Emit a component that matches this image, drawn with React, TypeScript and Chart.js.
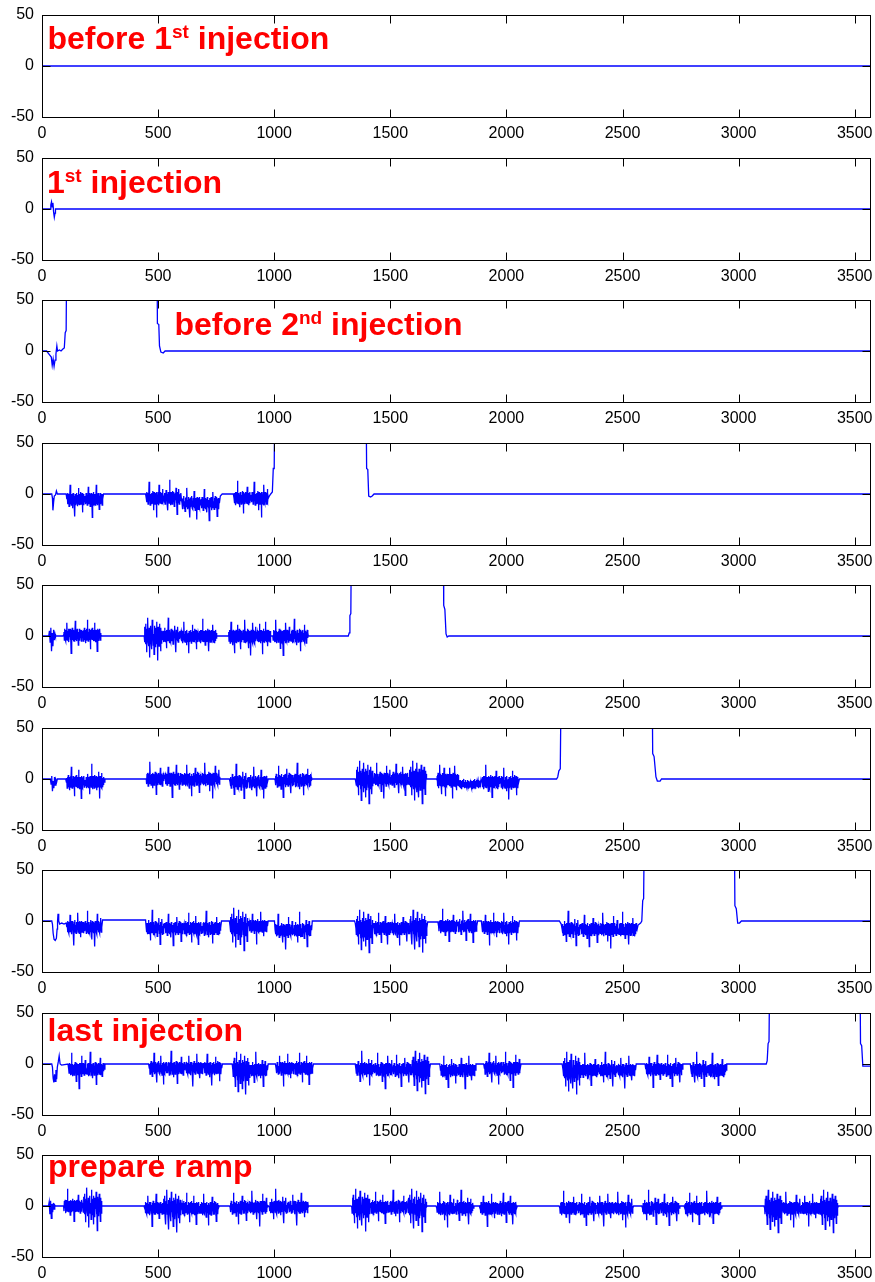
import React, { useEffect, useRef } from 'react';
import { Chart, registerables } from 'chart.js';
Chart.register(...registerables);

// ---------- axes ----------
const X_TICKS = [0, 500, 1000, 1500, 2000, 2500, 3000, 3500];
const Y_TICKS = [-50, 0, 50];
const X_MAX = 3568;

// ---------- hand-read noise shapes (data units, relative to burst mean) ----------
const NOISE_A = [0,4,-5,6,-3,5,-7,3,-4,14,-5,2,-6,5,-3,4,-9,6,-4,2,-5,3,-17,5,-6,3,-4,6,-2,-7,4,-5,11,-3,2,-6,5,-4,7,-5,3,-4,6,-13,4,-2,5,-6,3,0];
const NOISE_B = [0,-4,6,-3,5,-6,4,-5,16,-2,5,-7,4,-4,2,-6,5,-5,7,-3,4,-12,6,-5,3,-6,5,-2,4,-19,6,-4,2,-5,6,-7,13,-3,4,-5,6,-4,3,-6,5,-4,9,-5,2,0];
const NOISE_C = [0,4,-6,5,-3,7,-5,2,-8,5,-5,6,-4,15,-2,-6,3,-5,6,-5,4,-14,5,-4,6,-3,7,-5,2,-6,5,-4,12,-5,3,-7,5,-2,5,-16,6,-5,4,-6,5,-3,6,-5,2,0];
const NOISE_D = [0,-5,5,-2,6,-7,5,-4,6,-5,17,-3,4,-6,5,-4,2,-9,6,-4,5,-6,3,-5,7,-2,5,-15,6,-3,4,-6,5,-4,6,-5,3,-4,11,-6,5,-3,5,-7,4,-5,6,-2,3,0];
const NOISE_E = [0,3,-5,6,-4,5,-6,2,-5,12,-5,4,-3,6,-7,5,-2,6,-5,3,-18,5,-4,7,-5,2,-6,5,-6,4,-3,14,-5,5,-2,-6,6,-4,5,-10,3,-5,6,-5,5,-3,4,-6,5,0];
const NOISE_F = [0,-4,5,-6,3,-5,8,-3,5,-6,4,-12,6,-2,5,-5,18,-5,3,-7,6,-4,2,-6,7,-5,5,-3,6,-8,4,-5,5,-2,10,-5,3,-16,6,-4,5,-5,9,-6,2,-5,4,-3,5,0];
const NOISE_G = [0,2,-3,4,-2,1,-4,3,-1,2,-5,3,-2,4,-3,1,-2,5,-3,2,-4,1,-3,3,-2,4,-1,2,-3,1,0,3,-2,4,-4,2,-1,3,-3,1,0];
const NOISE_H = [0,-6,9,-4,12,-8,5,-16,7,-3,18,-6,4,-10,8,-21,6,-5,10,-7,3,-13,16,-4,7,-9,2,-18,10,-6,8,-11,5,-3,14,-8,4,-24,9,-5,7,-10,12,-4,3,-15,8,-7,5,0];
const NOISE: Record<string, number[]> = { A: NOISE_A, B: NOISE_B, C: NOISE_C, D: NOISE_D, E: NOISE_E, F: NOISE_F, G: NOISE_G, H: NOISE_H };

// ---------- panel key points [time, value] ----------
const P1_SHAPE = [[0,0],[3568,0]];
const P2_SHAPE = [[0,0],[35,0],[38,4],[41,7],[44,2],[47,6],[50,-3],[53,-8],[56,-4],[58,0],[3568,0]];
const P3_SHAPE = [[0,0],[20,0],[30,-3],[40,-6],[44,-14],[48,-8],[52,-15],[56,-9],[60,-3],[64,5],[67,0],[75,1],[82,0],[90,2],[96,3],[100,18],[104,20],[108,150],[494,150],[497,27],[503,26],[506,5],[512,-1],[522,-2],[530,0],[3568,0]];
const P4_SHAPE = [[0,0],[42,0],[45,-4],[47,-16],[50,-8],[53,-2],[58,-1],[62,3],[66,0],[104,0],[265,0],[446,0],[768,-2],[776,0],[824,0],[979,-2],[985,0],[992,2],[996,25],[1000,25],[1004,150],[1394,150],[1398,25],[1403,24],[1407,-2],[1415,-3],[1422,-2],[1430,0],[3568,0]];
const P5_SHAPE = [[0,0],[29,0],[32,5],[35,-6],[38,8],[41,-15],[44,3],[47,-10],[50,6],[53,-4],[56,2],[58,0],[90,0],[257,0],[437,0],[756,0],[800,0],[989,0],[1150,0],[1319,0],[1323,3],[1326,20],[1330,22],[1334,150],[1727,150],[1730,30],[1735,26],[1740,2],[1745,-1],[1752,0],[3568,0]];
const P6_SHAPE = [[0,0],[36,0],[39,-5],[42,3],[45,-12],[48,-2],[51,-9],[54,2],[57,-6],[60,-1],[63,-3],[66,0],[102,0],[271,0],[446,0],[770,0],[807,0],[974,0],[1001,0],[1164,0],[1349,0],[1659,0],[1698,0],[1891,0],[2056,0],[2216,0],[2221,2],[2226,8],[2232,10],[2238,150],[2626,150],[2630,25],[2636,22],[2644,2],[2650,-2],[2662,-2],[2668,0],[3568,0]];
const P7_SHAPE = [[0,0],[42,0],[45,-3],[48,-12],[52,-18],[57,-19],[62,-17],[65,-8],[67,0],[69,7],[72,0],[76,-3],[85,-2],[95,-3],[104,-2],[261,1],[446,1],[773,0],[807,0],[974,0],[1001,0],[1164,0],[1346,0],[1349,-2],[1661,-1],[1705,-1],[1876,0],[1892,0],[2056,0],[2228,0],[2236,-3],[2567,-4],[2578,-2],[2583,0],[2587,20],[2591,22],[2596,150],[2980,150],[2984,15],[2990,12],[2996,-2],[3004,-2],[3012,0],[3568,0]];
const P8_SHAPE = [[0,0],[42,0],[45,-3],[48,-14],[51,-18],[54,-10],[57,-17],[60,-6],[63,-15],[66,-3],[70,2],[74,8],[78,0],[84,-1],[112,0],[271,0],[459,0],[777,0],[819,0],[974,0],[1005,0],[1169,0],[1349,0],[1673,0],[1713,0],[1869,0],[1902,0],[2063,0],[2240,0],[2559,0],[2597,0],[2760,0],[2792,0],[2949,0],[3119,0],[3123,3],[3127,20],[3131,22],[3136,150],[3521,150],[3525,20],[3530,18],[3535,-2],[3568,-2]];
const P9_SHAPE = [[0,0],[28,0],[31,4],[34,-8],[37,5],[40,-12],[43,2],[46,-6],[49,3],[52,-3],[55,1],[58,0],[90,0],[261,0],[439,0],[763,0],[807,0],[975,0],[1150,0],[1331,0],[1659,0],[1697,0],[1860,0],[1883,0],[2047,0],[2227,0],[2548,0],[2583,0],[2747,0],[2765,0],[2928,0],[3109,0],[3430,0],[3568,0]];

// ---------- bursts [start, end, mean, noise shapes] ----------
type Burst = [number, number, number, string];
const P1_BURSTS: Burst[] = [];
const P2_BURSTS: Burst[] = [];
const P3_BURSTS: Burst[] = [];
const P4_BURSTS: Burst[] = [[107,262,-5,'AE'],[449,600,-4,'BF'],[603,764,-9,'CA'],[827,975,-4,'DB']];
const P5_BURSTS: Burst[] = [[93,254,1,'EC'],[440,753,0,'HFAD'],[803,985,0,'ABE'],[994,1147,0,'BD']];
const P6_BURSTS: Burst[] = [[105,268,-3,'CF'],[449,767,0,'DEAB'],[810,971,-3,'FC'],[1004,1161,-1,'AD'],[1352,1656,0,'HBCH'],[1701,1795,-1,'CE'],[1797,1888,-5,'GG'],[1895,2053,-3,'DA']];
const P7_BURSTS: Burst[] = [[107,258,-6,'EB'],[449,770,-7,'FACD'],[810,971,-5,'HE'],[1004,1161,-9,'BF'],[1352,1658,-7,'HCAH'],[1708,1873,-5,'DC'],[1895,2053,-6,'EA'],[2240,2563,-8,'FABD']];
const P8_BURSTS: Burst[] = [[115,268,-5,'BD'],[462,774,-4,'CDEA'],[822,971,-6,'HF'],[1008,1166,-4,'EC'],[1352,1670,-5,'FBAH'],[1716,1866,-6,'AE'],[1905,2060,-4,'CB'],[2244,2556,-6,'HDFE'],[2600,2757,-5,'EA'],[2795,2946,-6,'FD']];
const P9_BURSTS: Burst[] = [[93,258,0,'DH'],[442,760,-2,'EHCA'],[810,971,-1,'AB'],[979,1147,-1,'FE'],[1334,1656,-1,'HCDH'],[1700,1857,-2,'BF'],[1886,2044,-2,'EC'],[2230,2545,-2,'DAEB'],[2586,2744,-2,'FA'],[2768,2925,-2,'CD'],[3112,3427,-2,'HBEH']];

// ---------- red labels: [text, superscript] ----------
const LABEL_1: [string, boolean][] = [['before ', false], ['1', false], ['st', true], [' injection', false]];
const LABEL_2: [string, boolean][] = [['1', false], ['st', true], [' injection', false]];
const LABEL_3: [string, boolean][] = [['before 2', false], ['nd', true], [' injection', false]];
const LABEL_8: [string, boolean][] = [['last injection', false]];
const LABEL_9: [string, boolean][] = [['prepare ramp', false]];

const PANELS = [
  { shape: P1_SHAPE, bursts: P1_BURSTS, label: LABEL_1, pos: [47.5, 34.3] },
  { shape: P2_SHAPE, bursts: P2_BURSTS, label: LABEL_2, pos: [47, 35] },
  { shape: P3_SHAPE, bursts: P3_BURSTS, label: LABEL_3, pos: [174.5, 35] },
  { shape: P4_SHAPE, bursts: P4_BURSTS, label: null, pos: null },
  { shape: P5_SHAPE, bursts: P5_BURSTS, label: null, pos: null },
  { shape: P6_SHAPE, bursts: P6_BURSTS, label: null, pos: null },
  { shape: P7_SHAPE, bursts: P7_BURSTS, label: null, pos: null },
  { shape: P8_SHAPE, bursts: P8_BURSTS, label: LABEL_8, pos: [47.5, 28.2] },
  { shape: P9_SHAPE, bursts: P9_BURSTS, label: LABEL_9, pos: [48, 21.7] },
];

const PANEL_STEP = 142.5;
const PLOT_TOP = 15;
const CANVAS_H = 143;
const FONT = '"Liberation Sans", Arial, Helvetica, sans-serif';

function buildSeries(shape: number[][], bursts: Burst[]) {
  const pts = shape.map(([x, y]) => ({ x, y }));
  for (const [s, e, mean, keys] of bursts) {
    const vals = keys.split('').flatMap((k) => NOISE[k]);
    const n = vals.length;
    vals.forEach((v, i) => pts.push({ x: s + ((e - s) * i) / (n - 1), y: v + mean }));
  }
  pts.sort((a, b) => a.x - b.x);
  return pts;
}

function makePlugin(label: [string, boolean][] | null, pos: number[] | null) {
  return {
    id: 'matlabFrame',
    afterDraw(chart: any) {
      const { ctx, chartArea, scales } = chart;
      const L = Math.round(chartArea.left) + 0.5;
      const R = Math.floor(chartArea.right) + 0.5;
      const T = Math.round(chartArea.top) + 0.5;
      const B = Math.round(chartArea.bottom) + 0.5;
      ctx.save();
      ctx.strokeStyle = '#000';
      ctx.lineWidth = 1;
      ctx.beginPath();
      const tl = 8;
      for (const t of scales.x.ticks) {
        const px = Math.round(scales.x.getPixelForValue(t.value)) + 0.5;
        ctx.moveTo(px, B); ctx.lineTo(px, B - tl);
        ctx.moveTo(px, T); ctx.lineTo(px, T + tl);
      }
      for (const t of scales.y.ticks) {
        const py = Math.round(scales.y.getPixelForValue(t.value)) + 0.5;
        ctx.moveTo(L, py); ctx.lineTo(L + tl, py);
        ctx.moveTo(R, py); ctx.lineTo(R - tl, py);
      }
      ctx.stroke();
      ctx.strokeRect(L, T, R - L, B - T);
      if (label && pos) {
        ctx.fillStyle = '#ff0000';
        ctx.textBaseline = 'alphabetic';
        ctx.textAlign = 'left';
        let x = pos[0];
        const base = chartArea.top + pos[1];
        for (const [txt, sup] of label) {
          ctx.font = sup ? `bold 19px ${FONT}` : `bold 32px ${FONT}`;
          ctx.fillText(txt, x, sup ? base - 11 : base);
          x += ctx.measureText(txt).width;
        }
      }
      ctx.restore();
    },
  };
}

export default function App() {
  const refs = useRef<(HTMLCanvasElement | null)[]>([]);
  useEffect(() => {
    const charts = PANELS.map((p, i) => {
      const canvas = refs.current[i]!;
      return new Chart(canvas, {
        type: 'line',
        data: {
          datasets: [
            {
              data: buildSeries(p.shape, p.bursts),
              borderColor: '#0000ff',
              borderWidth: 1.3,
              pointRadius: 0,
              tension: 0,
              fill: false,
            },
          ],
        },
        options: {
          responsive: false,
          maintainAspectRatio: false,
          animation: false,
          devicePixelRatio: 1,
          events: [],
          layout: { padding: { top: PLOT_TOP, right: 4.5, left: 0, bottom: 0 } },
          plugins: { legend: { display: false }, tooltip: { enabled: false } },
          scales: {
            x: {
              type: 'linear',
              min: 0,
              max: X_MAX,
              afterBuildTicks: (s: any) => { s.ticks = X_TICKS.map((v) => ({ value: v })); },
              afterFit: (s: any) => { s.height = 26; s.paddingLeft = 0; s.paddingRight = 0; },
              grid: { display: false, drawTicks: false },
              border: { display: false },
              ticks: { autoSkip: false, maxRotation: 0, padding: 7, color: '#000', font: { family: FONT, size: 16 }, callback: (v: any) => String(v) },
            },
            y: {
              type: 'linear',
              min: -50,
              max: 50,
              afterBuildTicks: (s: any) => { s.ticks = Y_TICKS.map((v) => ({ value: v })); },
              afterFit: (s: any) => { s.width = 42; s.paddingTop = 0; s.paddingBottom = 0; },
              grid: { display: false, drawTicks: false },
              border: { display: false },
              ticks: { padding: 8, color: '#000', font: { family: FONT, size: 16 }, callback: (v: any) => String(v) },
            },
          },
        },
        plugins: [makePlugin(p.label, p.pos)],
      } as any);
    });
    return () => charts.forEach((c) => c.destroy());
  }, []);

  return (
    <div style={{ position: 'absolute', left: 0, top: 0, width: 875, height: 1282, background: '#fff', overflow: 'hidden' }}>
      {PANELS.map((_, i) => (
        <canvas
          key={i}
          ref={(el) => { refs.current[i] = el; }}
          width={875}
          height={CANVAS_H}
          style={{ position: 'absolute', left: 0, top: Math.round(PLOT_TOP + i * PANEL_STEP) - PLOT_TOP, width: 875, height: CANVAS_H }}
        />
      ))}
    </div>
  );
}
